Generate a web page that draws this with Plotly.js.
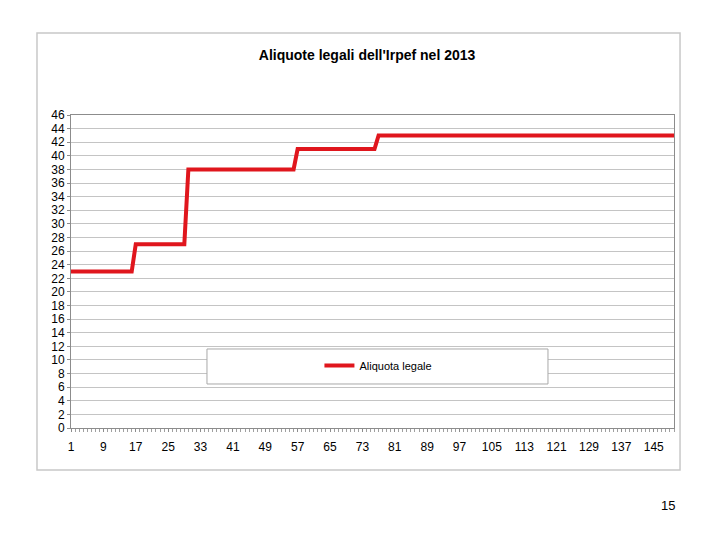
<!DOCTYPE html>
<html>
<head>
<meta charset="utf-8">
<script src="https://cdn.plot.ly/plotly-3.0.1.min.js"></script>
<style>
html,body{margin:0;padding:0;background:#fff;}
#chart{width:720px;height:540px;}
</style>
</head>
<body>
<div id="chart"></div>
<script>
// Data: category index 1..150 and the legal IRPEF rate
const categories = [
  1,2,3,4,5,6,7,8,9,10,11,12,13,14,15,16,17,18,19,20,
  21,22,23,24,25,26,27,28,29,30,31,32,33,34,35,36,37,38,39,40,
  41,42,43,44,45,46,47,48,49,50,51,52,53,54,55,56,57,58,59,60,
  61,62,63,64,65,66,67,68,69,70,71,72,73,74,75,76,77,78,79,80,
  81,82,83,84,85,86,87,88,89,90,91,92,93,94,95,96,97,98,99,100,
  101,102,103,104,105,106,107,108,109,110,111,112,113,114,115,116,117,118,119,120,
  121,122,123,124,125,126,127,128,129,130,131,132,133,134,135,136,137,138,139,140,
  141,142,143,144,145,146,147,148,149,150
];
const aliquotaLegale = [
  23,23,23,23,23,23,23,23,23,23,23,23,23,23,23,23,27,27,27,27,
  27,27,27,27,27,27,27,27,27,38,38,38,38,38,38,38,38,38,38,38,
  38,38,38,38,38,38,38,38,38,38,38,38,38,38,38,38,41,41,41,41,
  41,41,41,41,41,41,41,41,41,41,41,41,41,41,41,41,43,43,43,43,
  43,43,43,43,43,43,43,43,43,43,43,43,43,43,43,43,43,43,43,43,
  43,43,43,43,43,43,43,43,43,43,43,43,43,43,43,43,43,43,43,43,
  43,43,43,43,43,43,43,43,43,43,43,43,43,43,43,43,43,43,43,43,
  43,43,43,43,43,43,43,43,43,43
];
const xTickLabels = [1,9,17,25,33,41,49,57,65,73,81,89,97,105,113,121,129,137,145];
const yTickValues = [0,2,4,6,8,10,12,14,16,18,20,22,24,26,28,30,32,34,36,38,40,42,44,46];
const seriesName = 'Aliquota legale';
const chartTitle = "Aliquote legali dell'Irpef nel 2013";
const pageNumber = '15';

const FONT = 'Liberation Sans, Arial, sans-serif';

const trace = {
  x: categories,
  y: aliquotaLegale,
  type: 'scatter',
  mode: 'lines',
  name: seriesName,
  line: {color: '#e0161d', width: 4}
};

const layout = {
  width: 720,
  height: 540,
  margin: {l: 71, r: 46, t: 115, b: 112},
  paper_bgcolor: '#ffffff',
  plot_bgcolor: '#ffffff',
  font: {family: FONT, size: 12, color: '#000'},
  title: {
    text: '<b>' + chartTitle + '</b>',
    font: {family: FONT, size: 14, color: '#000'},
    x: 0.491, xref: 'paper', xanchor: 'center',
    y: 0.898, yref: 'container', yanchor: 'middle'
  },
  xaxis: {
    range: [1, 150],
    tickmode: 'array',
    tickvals: xTickLabels,
    ticktext: xTickLabels.map(String),
    ticks: 'outside', ticklen: 3, tickcolor: '#8c8c8c',
    minor: {dtick: 1, tick0: 1, ticks: 'outside', ticklen: 3, tickcolor: '#a0a0a0', showgrid: false},
    ticklabelstandoff: 5,
    showgrid: false, zeroline: false,
    showline: true, linecolor: '#8c8c8c', linewidth: 1, mirror: true,
    tickfont: {family: FONT, size: 12, color: '#000'},
    fixedrange: true
  },
  yaxis: {
    range: [0, 46],
    tickmode: 'array',
    tickvals: yTickValues,
    ticktext: yTickValues.map(String),
    ticks: 'outside', ticklen: 3, tickcolor: '#8c8c8c',
    showgrid: true, gridcolor: '#c4c4c4', gridwidth: 1,
    zeroline: false,
    showline: true, linecolor: '#8c8c8c', linewidth: 1, mirror: true,
    tickfont: {family: FONT, size: 12, color: '#000'},
    fixedrange: true
  },
  showlegend: true,
  legend: {
    x: 0.412, xanchor: 'left', xref: 'paper',
    y: 0.2, yanchor: 'middle', yref: 'paper',
    bgcolor: 'rgba(0,0,0,0)', borderwidth: 0,
    font: {family: FONT, size: 11, color: '#000'},
    itemwidth: 30
  },
  shapes: [
    {type: 'rect', xref: 'paper', yref: 'paper',
     x0: -0.0564, x1: 1.01, y0: -0.134, y1: 1.262,
     line: {color: '#c8c8c8', width: 1.5}, fillcolor: 'rgba(0,0,0,0)', layer: 'below'},
    {type: 'rect', xref: 'paper', yref: 'paper',
     x0: 0.2255, x1: 0.791, y0: 0.1406, y1: 0.2524,
     line: {color: '#a8a8a8', width: 1}, fillcolor: '#ffffff', layer: 'above'}
  ],
  annotations: [
    {text: pageNumber, xref: 'paper', yref: 'paper',
     x: (668 - 71) / 603, y: (428 - 505) / 313,
     xanchor: 'center', yanchor: 'middle', showarrow: false,
     font: {family: FONT, size: 13, color: '#000'}}
  ]
};

Plotly.newPlot('chart', [trace], layout, {displayModeBar: false, staticPlot: true});
</script>
</body>
</html>
